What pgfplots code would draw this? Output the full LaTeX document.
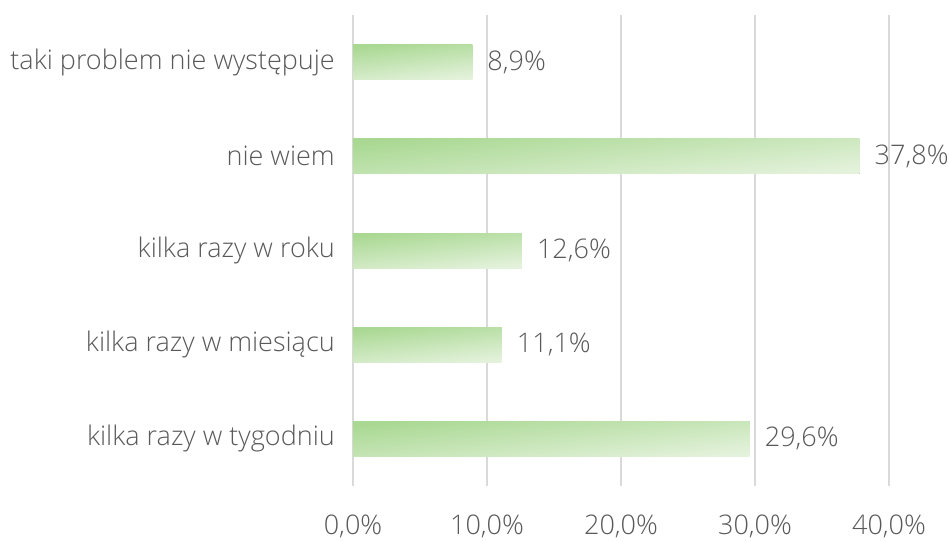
\documentclass[border=0pt]{standalone}
\usepackage{pgfplots}
\pgfplotsset{compat=1.18}
\usepackage{fontspec}
\setmainfont{Open Sans}[UprightFont={* Light}]
\definecolor{txt}{HTML}{595959}
\definecolor{gridc}{HTML}{D9D9D9}
\definecolor{gA}{HTML}{A9D892}
\definecolor{gB}{HTML}{E4F2DC}
\newcommand{\lblfont}{\fontsize{27}{31}\selectfont}
\begin{document}
\begin{tikzpicture}
\useasboundingbox (-353pt,-55pt) rectangle (596pt,486pt);
\begin{axis}[
 scale only axis, width=536pt, height=471pt,
 xmin=0, xmax=40, ymin=-0.5, ymax=4.5,
 xbar, bar width=35pt, bar shift=0pt,
 axis line style={draw=none},
 xtick={0,10,20,30,40},
 xmajorgrids, grid style={gridc, line width=1.5pt},
 major tick length=0pt,
 ytick={0,1,2,3,4},
 yticklabels={kilka razy w tygodniu, kilka razy w miesiącu, kilka razy w roku, nie wiem, taki problem nie występuje},
 /pgf/number format/assume math mode=true,
 xticklabel={\pgfmathprintnumber[fixed,fixed zerofill,precision=1,use comma]{\tick}\%},
 xticklabel style={font=\lblfont, text=txt, anchor=north, inner sep=0pt, yshift=-29pt},
 yticklabel style={font=\lblfont, text=txt, anchor=east, inner sep=0pt, xshift=-18pt},
 nodes near coords={\pgfmathprintnumber[fixed,fixed zerofill,precision=1,use comma]{\pgfplotspointmeta}\%},
 nodes near coords style={font=\lblfont, text=txt, anchor=west, inner sep=0pt, xshift=15pt},
 point meta=x,
 clip=false,
 every axis plot/.append style={draw=none, top color=gA, bottom color=gB, shading angle=6},
]
\addplot coordinates {(29.6,0)};
\addplot coordinates {(11.1,1)};
\addplot coordinates {(12.6,2)};
\addplot coordinates {(37.8,3)};
\addplot coordinates {(8.9,4)};
\end{axis}
\end{tikzpicture}
\end{document}
